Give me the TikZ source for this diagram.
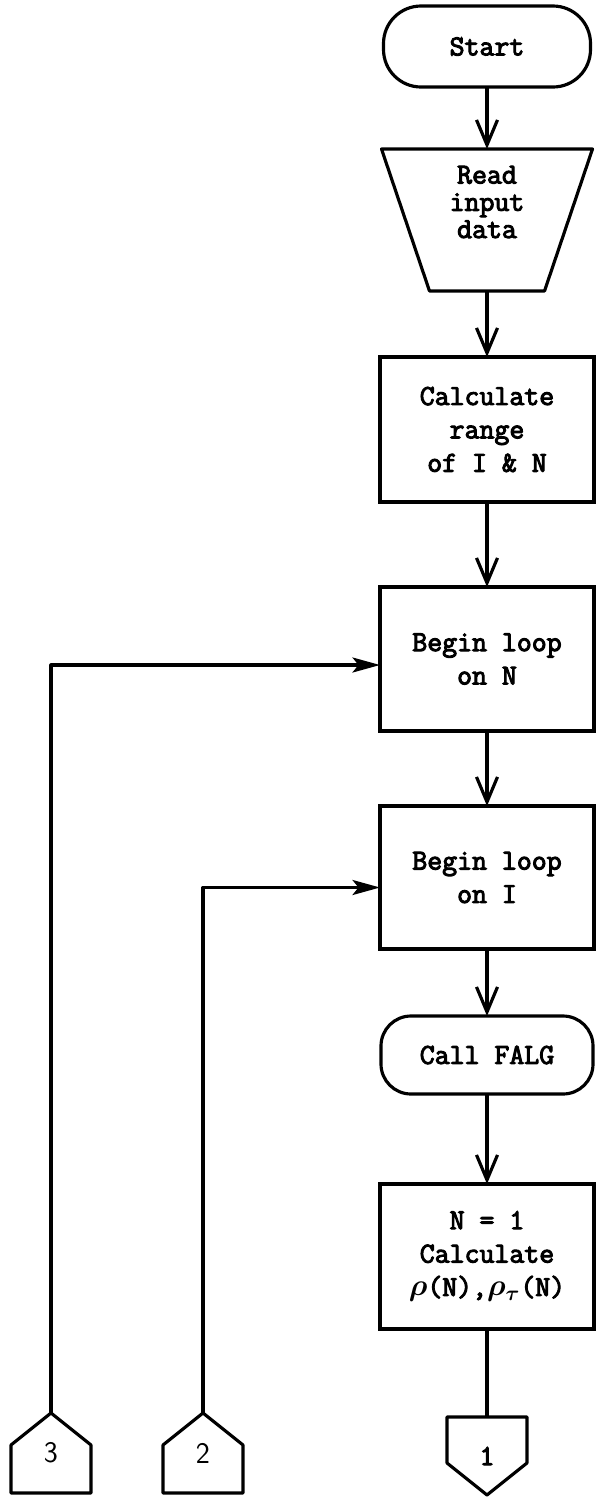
\documentclass[tikz,border=0pt]{standalone}
\usepackage{fontspec}
\setmonofont{Latin Modern Mono}[AutoFakeBold=3.5]
\usepackage{tikz}
\usetikzlibrary{arrows.meta, positioning, calc}

\begin{document}
\begin{tikzpicture}[
    box/.style={draw, line width=1.8pt, outer sep=0pt, minimum width=4.28cm, minimum height=2.9cm, align=center,
                font=\ttfamily\bfseries\boldmath\fontsize{16.5}{19}\selectfont},
    term/.style={box, rounded corners=0.75cm, minimum height=1.62cm},
    trapbox/.style={outer sep=0pt, minimum width=4.22cm, minimum height=2.84cm},
    conn/.style={outer sep=0pt, minimum width=1.6cm, minimum height=1.6cm, inner sep=0pt,
                 font=\sffamily\fontsize{17}{20}\selectfont},
    line/.style={line width=1.8pt, line join=round},
    arr/.style={line, -{Straight Barb[length=0.5cm, width=0.42cm]}},
    back/.style={line, -{Stealth[length=0.55cm, width=0.3cm, inset=0.12cm]}}
]
  \useasboundingbox (0,0) rectangle (11.96,-29.98);

  \node[term, minimum width=4.14cm] (start) at (9.74,-0.93) {Start};
  \node[trapbox, below=1.24cm of start, label={[align=center, yshift=0.36cm,
        font=\ttfamily\bfseries\fontsize{16.5}{15.5}\selectfont]center:Read\\input\\data}] (read) {};
  \draw[line] (read.north west) -- (read.north east) -- ([xshift=-0.96cm]read.south east)
    -- ([xshift=0.96cm]read.south west) -- cycle;
  \node[box, below=1.32cm of read] (range) {Calculate\\range\\of I \& N};
  \node[box, below=1.7cm of range, minimum height=2.88cm] (loopn) {Begin loop\\on N};
  \node[box, below=1.5cm of loopn, minimum height=2.86cm] (loopi) {Begin loop\\on I};
  \node[term, below=1.34cm of loopi, minimum height=1.56cm, rounded corners=0.6cm, minimum width=4.24cm] (falg) {Call FALG};
  \node[box, below=1.8cm of falg] (rho) {N = 1\\Calculate\\$\rho$(N),$\rho_{\tau}$(N)};

  % off-page connectors
  \node[conn, below=1.76cm of rho, minimum height=1.56cm, font=\ttfamily\bfseries\fontsize{16.5}{19}\selectfont] (c1) {1};
  \draw[line] (c1.north west) -- (c1.north east) -- ([yshift=0.64cm]c1.south east)
    -- (c1.south) -- ([yshift=0.64cm]c1.south west) -- cycle;
  \node[conn] (c3) at (1.02,-29.06) {3};
  \node[conn] (c2) at (4.06,-29.06) {2};
  \foreach \c in {c3, c2}
    \draw[line] (\c.south west) -- ([yshift=-0.64cm]\c.north west) -- (\c.north)
      -- ([yshift=-0.64cm]\c.north east) -- (\c.south east) -- cycle;

  \draw[arr] (start) -- (read);
  \draw[arr] (read) -- (range);
  \draw[arr] (range) -- (loopn);
  \draw[arr] (loopn) -- (loopi);
  \draw[arr] (loopi) -- (falg);
  \draw[arr] (falg) -- (rho);
  \draw[line] (rho) -- (c1);
  \draw[back] (c3.north) |- ([yshift=-0.12cm]loopn.west);
  \draw[back] (c2.north) |- ([yshift=-0.2cm]loopi.west);
\end{tikzpicture}
\end{document}
